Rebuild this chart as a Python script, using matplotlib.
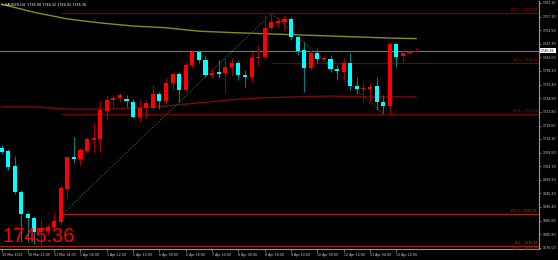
import matplotlib
matplotlib.use("Agg")
import matplotlib.pyplot as plt
import matplotlib.transforms as mtransforms

# ---------------- data ----------------
opens = [1711.1, 1710.1, 1704.8, 1695.7, 1687.9, 1686.5, 1681.6, 1682.0, 1683.4, 1685.1,
         1696.7, 1708.0, 1707.3, 1710.1, 1713.9, 1714.3, 1724.1, 1728.0, 1728.7, 1728.2,
         1727.3, 1722.0, 1725.2, 1725.2, 1730.1, 1727.6, 1734.0, 1737.2, 1731.5, 1740.3,
         1744.9, 1742.1, 1736.8, 1737.7, 1737.5, 1739.6, 1741.0, 1736.8, 1736.1, 1742.9,
         1743.1, 1753.3, 1755.1, 1755.4, 1756.5, 1750.2, 1745.6, 1739.2, 1744.5, 1742.6,
         1742.4, 1738.9, 1737.8, 1741.0, 1732.9, 1731.9, 1731.9, 1732.9, 1727.3, 1725.9,
         1747.7, 1743.5, 1744.5, 1745.00]
highs = [1712.2, 1710.8, 1708.3, 1696.4, 1688.6, 1687.2, 1686.2, 1684.4, 1688.6, 1697.8,
         1708.3, 1715.0, 1711.1, 1715.0, 1719.9, 1727.6, 1729.8, 1729.8, 1730.5, 1729.8,
         1728.4, 1728.0, 1728.0, 1733.3, 1730.8, 1735.7, 1737.8, 1737.8, 1741.4, 1745.6,
         1745.6, 1743.8, 1739.2, 1742.1, 1742.8, 1742.8, 1742.1, 1738.5, 1744.9, 1747.3,
         1757.9, 1758.49, 1757.2, 1757.9, 1757.2, 1750.5, 1748.4, 1745.6, 1745.9, 1743.5,
         1743.8, 1740.3, 1742.8, 1744.5, 1736.1, 1734.0, 1734.0, 1736.1, 1729.8, 1748.4,
         1748.0, 1745.6, 1745.6, 1746.32]
lows = [1709.0, 1703.4, 1695.0, 1678.1, 1678.1, 1677.4, 1676.65, 1680.5, 1682.6, 1684.1,
        1693.6, 1705.9, 1705.2, 1709.4, 1709.7, 1709.7, 1721.0, 1725.5, 1727.3, 1725.5,
        1721.7, 1720.3, 1721.7, 1724.5, 1724.8, 1726.9, 1731.5, 1727.3, 1730.8, 1739.6,
        1741.0, 1736.1, 1735.7, 1735.7, 1730.5, 1736.8, 1735.0, 1732.6, 1734.3, 1740.3,
        1742.8, 1752.6, 1753.7, 1752.6, 1749.1, 1743.8, 1730.8, 1738.9, 1741.0, 1742.1,
        1737.8, 1735.0, 1735.0, 1731.5, 1730.1, 1727.3, 1727.3, 1724.5, 1723.4, 1723.4,
        1739.6, 1741.4, 1744.3, 1744.92]
closes = [1709.7, 1704.5, 1695.7, 1687.9, 1686.5, 1681.6, 1683.0, 1683.4, 1685.5, 1697.0,
          1708.0, 1707.3, 1710.4, 1714.3, 1714.6, 1724.5, 1728.0, 1728.7, 1729.8, 1727.8,
          1722.0, 1725.2, 1726.9, 1730.1, 1727.6, 1734.0, 1737.2, 1731.5, 1740.3, 1744.9,
          1742.1, 1736.8, 1737.5, 1737.3, 1739.6, 1741.0, 1736.8, 1736.1, 1742.8, 1743.1,
          1753.3, 1755.4, 1755.8, 1756.5, 1750.2, 1745.2, 1739.2, 1744.5, 1742.4, 1742.8,
          1738.9, 1738.2, 1741.0, 1732.9, 1731.9, 1732.2, 1732.6, 1727.3, 1725.9, 1747.7,
          1743.1, 1744.5, 1745.2, 1745.36]

ma_bars = [0, 5, 10, 15, 20, 25, 30, 35, 40, 45, 50, 55, 60, 63]
ma_fast = [1761.7, 1758.8, 1756.5, 1755.1, 1754.0, 1753.4, 1752.2, 1751.7, 1751.3, 1750.9,
           1750.5, 1750.1, 1749.7, 1749.6]
ma_slow = [1725.6, 1725.6, 1724.8, 1724.8, 1725.2, 1725.9, 1727.0, 1728.1, 1728.8, 1729.1,
           1729.4, 1729.1, 1729.1, 1729.1]

fib_prices = [1758.49, 1741.02, 1723.14, 1687.85, 1676.65]
fib_texts = ["100.0 - 1758.49", "50.0 - 1741.02", "61.8 - 1723.14", "100.0 - 1687.85", "0.0 - 1676.65"]
fib_start = [9.2, 41.1, 9.2, 9.2, -1.0]

trend_bars = [9.2, 41.1, 58.0]
trend_prices = [1687.85, 1758.49, 1723.1]

y_ticks = [1762.10, 1757.30, 1752.50, 1747.70, 1743.00, 1738.20, 1733.40, 1728.60, 1723.80,
           1719.00, 1714.30, 1709.50, 1704.70, 1699.90, 1695.20, 1690.40, 1685.60, 1680.80, 1676.00]
x_tick_bars = [0, 4, 8, 12, 16, 20, 24, 28, 32, 36, 40, 44, 48, 52, 56, 60]
x_tick_labels = ["30 Mar 2021", "30 Mar 22:00", "31 Mar 14:00", "1 Apr 04:00", "1 Apr 22:00",
                 "5 Apr 10:00", "6 Apr 00:00", "6 Apr 18:00", "7 Apr 10:00", "8 Apr 00:00",
                 "8 Apr 18:00", "9 Apr 10:00", "10 Apr 00:00", "12 Apr 14:00", "13 Apr 04:00",
                 "13 Apr 22:00"]
bid = 1745.36
header = "XAUUSD,H4  1745.00 1746.32 1744.92 1745.36"

# ---------------- figure ----------------
W, H = 558, 260
fig = plt.figure(figsize=(W / 100, H / 100), dpi=100, facecolor="black")
ax = fig.add_axes([0, 11 / H, 539 / W, 248 / H], facecolor="black")
ax.set_xlim(-0.228, 81.68)
ax.set_ylim(1675.63, 1762.8)

bars = list(range(len(opens)))
for i in bars:
    o, h, l, c = opens[i], highs[i], lows[i], closes[i]
    up = c >= o
    body_col = "#ff0000" if up else "#00ffff"
    wick_col = "#a00000" if up else "#008080"
    ax.vlines(i, l, h, color=wick_col, lw=0.8, zorder=3)
    lo, hi = min(o, c), max(o, c)
    ax.bar(i, max(hi - lo, 0.3), bottom=lo if hi - lo >= 0.3 else lo - 0.15, width=0.62,
           color=body_col, lw=0, zorder=4)

# moving averages
ax.plot(ma_bars, ma_fast, color="#8c8c14", lw=1.0, zorder=2)
ax.plot(ma_bars, ma_slow, color="#7a0a0a", lw=1.0, zorder=2)

# bid line
ax.axhline(bid, color="#6e7780", lw=0.8, zorder=1)

# fib lines
fib_line_cols = ["#780000", "#780000", "#780000", "#a02808", "#a02808"]
fib_text_cols = ["#b01010", "#b01010", "#b01010", "#c83010", "#d04010"]
for p, t, s, lc, tc in zip(fib_prices, fib_texts, fib_start, fib_line_cols, fib_text_cols):
    ax.plot([s, 81.68], [p, p], color=lc, lw=0.9, zorder=1)
    ax.text(0.997, p + 0.3, t, transform=mtransforms.blended_transform_factory(ax.transAxes, ax.transData),
            ha="right", va="bottom", fontsize=2.4, color=tc, zorder=5)
ax.text(0.997, 1676.65 - 0.2, "61.8 - 1674.95",
        transform=mtransforms.blended_transform_factory(ax.transAxes, ax.transData),
        ha="right", va="top", fontsize=2.4, color="#c01010", zorder=5)

# trend (fib base) dotted line
ax.plot(trend_bars, trend_prices, color="#1a6e50", lw=0.8, ls=(0, (1, 1.5)), zorder=2)

# axes styling
for sp in ["top", "left"]:
    ax.spines[sp].set_visible(False)
for sp in ["right", "bottom"]:
    ax.spines[sp].set_color("#9a9a9a")
    ax.spines[sp].set_linewidth(0.8)
ax.yaxis.tick_right()
ax.set_yticks(y_ticks)
ax.set_yticklabels([f"{v:.2f}" for v in y_ticks])
ax.tick_params(axis="y", colors="#9a9a9a", labelcolor="#d0d0d0", labelsize=2.3, length=1.5, width=0.5, pad=1)
ax.set_xticks(x_tick_bars)
ax.set_xticklabels(x_tick_labels)
ax.tick_params(axis="x", colors="#9a9a9a", labelcolor="#d0d0d0", labelsize=2.3, length=2, width=0.5, pad=0.8)
for lbl in ax.get_xticklabels():
    lbl.set_horizontalalignment("left")

# current price box on axis
ax.text(1.004, bid, f"{bid:.2f}", transform=mtransforms.blended_transform_factory(ax.transAxes, ax.transData),
        ha="left", va="center", fontsize=2.3, color="black",
        bbox=dict(boxstyle="square,pad=0.25", fc="white", ec="none"), clip_on=False, zorder=6)

# header and big price
fig.text(2 / W, 1 - 5 / H, "\u25be " + header, fontsize=2.4, color="white", ha="left", va="center")
fig.text(2 / W, (H - 242) / H, f"{bid:.2f}", fontsize=14.4, color="#ff0000", ha="left",
         va="baseline", family="Liberation Sans")

fig.savefig("out.png", dpi=100, facecolor="black")
